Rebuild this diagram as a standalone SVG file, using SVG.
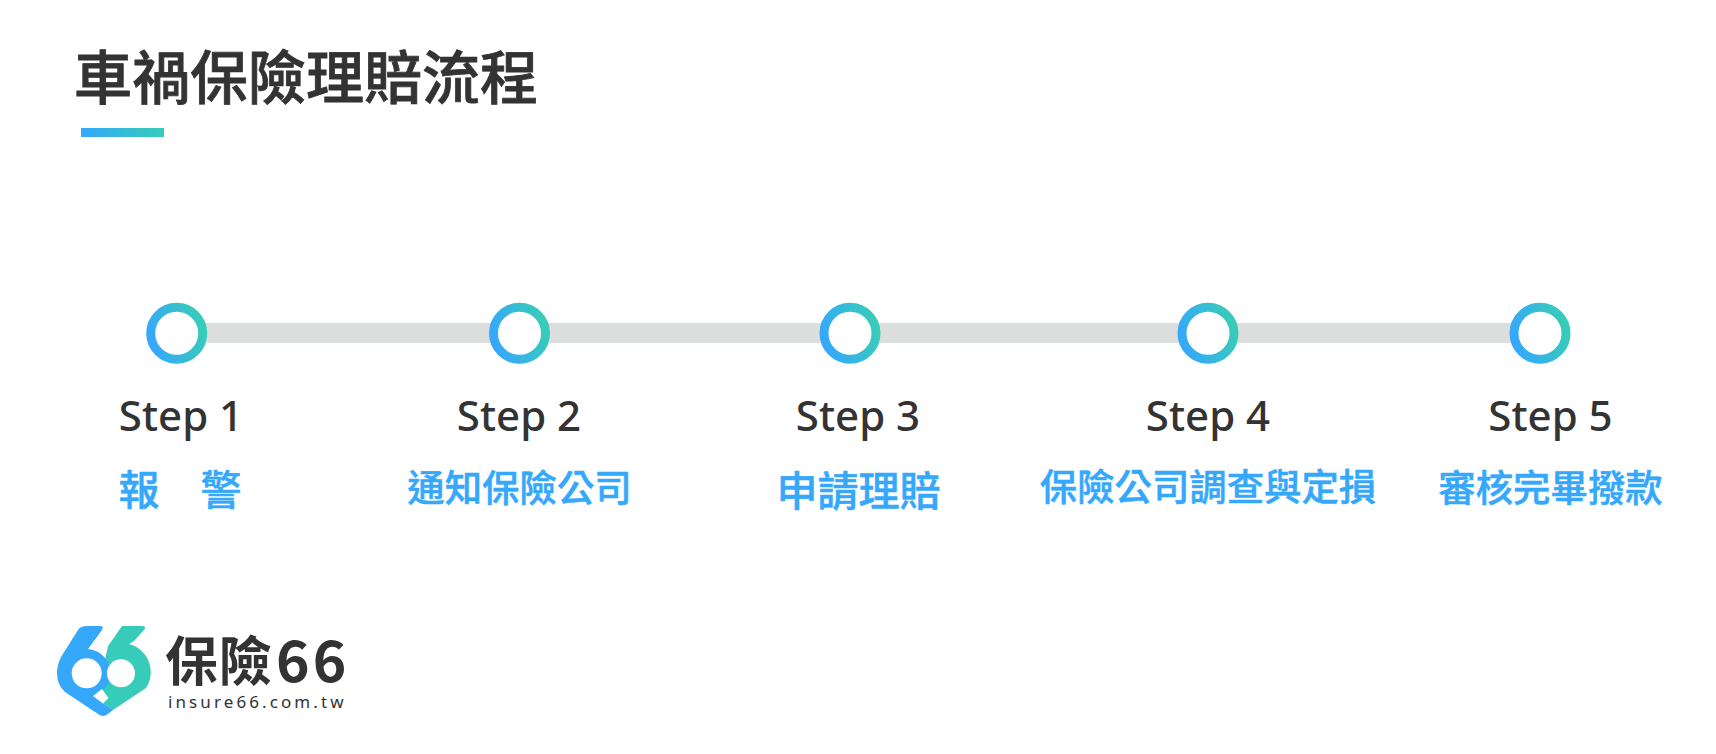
<svg xmlns="http://www.w3.org/2000/svg" width="1716" height="754" viewBox="0 0 1716 754">
<defs>
<linearGradient id="g"><stop offset="0" stop-color="#35a8fb"/><stop offset="1" stop-color="#37ccb9"/></linearGradient>
<linearGradient id="gr" gradientUnits="objectBoundingBox" x1="0" y1="0.65" x2="1" y2="0.35"><stop offset="0" stop-color="#35a8fb"/><stop offset="1" stop-color="#37ccb9"/></linearGradient>
</defs>
<style>
text{font-family:"Noto Sans CJK TC","Noto Sans",sans-serif}
.step{font-family:"Noto Sans","Noto Sans CJK TC",sans-serif;font-size:42px;font-weight:500;fill:#333;text-anchor:middle}
.lab{font-size:37.4px;font-weight:500;fill:#35a8fb;stroke:#35a8fb;stroke-width:.5;text-anchor:middle}
.ring{fill:#fff;stroke:url(#gr);stroke-width:9}
</style>
<rect width="1716" height="754" fill="#fff"/>
<g id="title">
<text x="74" y="99" font-size="58" font-weight="500" fill="#333" stroke="#333" stroke-width=".8">車禍保險理賠流程</text>
<rect x="81" y="128" width="83" height="9" fill="url(#g)"/>
</g>
<g id="connectors"><rect x="176" y="323" width="1364" height="20" fill="#dcdedd"/></g>
<g id="step1"><circle class="ring" cx="176.7" cy="333.3" r="26"/><text class="step" x="181" y="431">Step 1</text><text class="lab" x="180" y="505" style="font-size:41px">報　警</text></g>
<g id="step2"><circle class="ring" cx="519.5" cy="333.3" r="26"/><text class="step" x="519" y="431">Step 2</text><text class="lab" x="519.5" y="502">通知保險公司</text></g>
<g id="step3"><circle class="ring" cx="850" cy="333.3" r="26"/><text class="step" x="858" y="431">Step 3</text><text class="lab" x="858.5" y="506" style="font-size:41px">申請理賠</text></g>
<g id="step4"><circle class="ring" cx="1208" cy="333.3" r="26"/><text class="step" x="1208" y="431">Step 4</text><text class="lab" x="1208" y="501">保險公司調查與定損</text></g>
<g id="step5"><circle class="ring" cx="1540" cy="333.3" r="26"/><text class="step" x="1550.5" y="431">Step 5</text><text class="lab" x="1550.5" y="502">審核完畢撥款</text></g>
<g id="logo">
<path d="M122 626H142Q147 626 144 630L135 640Q133 642 129 644A29 29 0 0 1 146 688L113 710L93 696L105 660L108 646Z" fill="#37ccb9"/>
<path d="M88 626H100Q104 626 102 630L88 649A24 24 0 0 1 93 696L113 710L108 714Q103 718 98 714L65 692Q57 685 57 673Q57 665 61 657L78 630Q80 626 88 626Z" fill="#35a8fb"/>
<circle cx="86.7" cy="673.3" r="15" fill="#fff"/><circle cx="121" cy="673.3" r="14" fill="#fff"/>
<path d="M93 696L102 689L108.5 698L103 703.5Z" fill="#fff"/>
<text x="165" y="681" font-size="53" font-weight="700" fill="#333" letter-spacing="1">保險</text>
<text x="276" y="682" font-size="57" font-weight="700" fill="#333" letter-spacing="3">66</text>
<text x="168" y="708" font-size="17" fill="#333" letter-spacing="3.1" style="font-family:'Noto Sans',sans-serif">insure66.com.tw</text>
</g>
</svg>
